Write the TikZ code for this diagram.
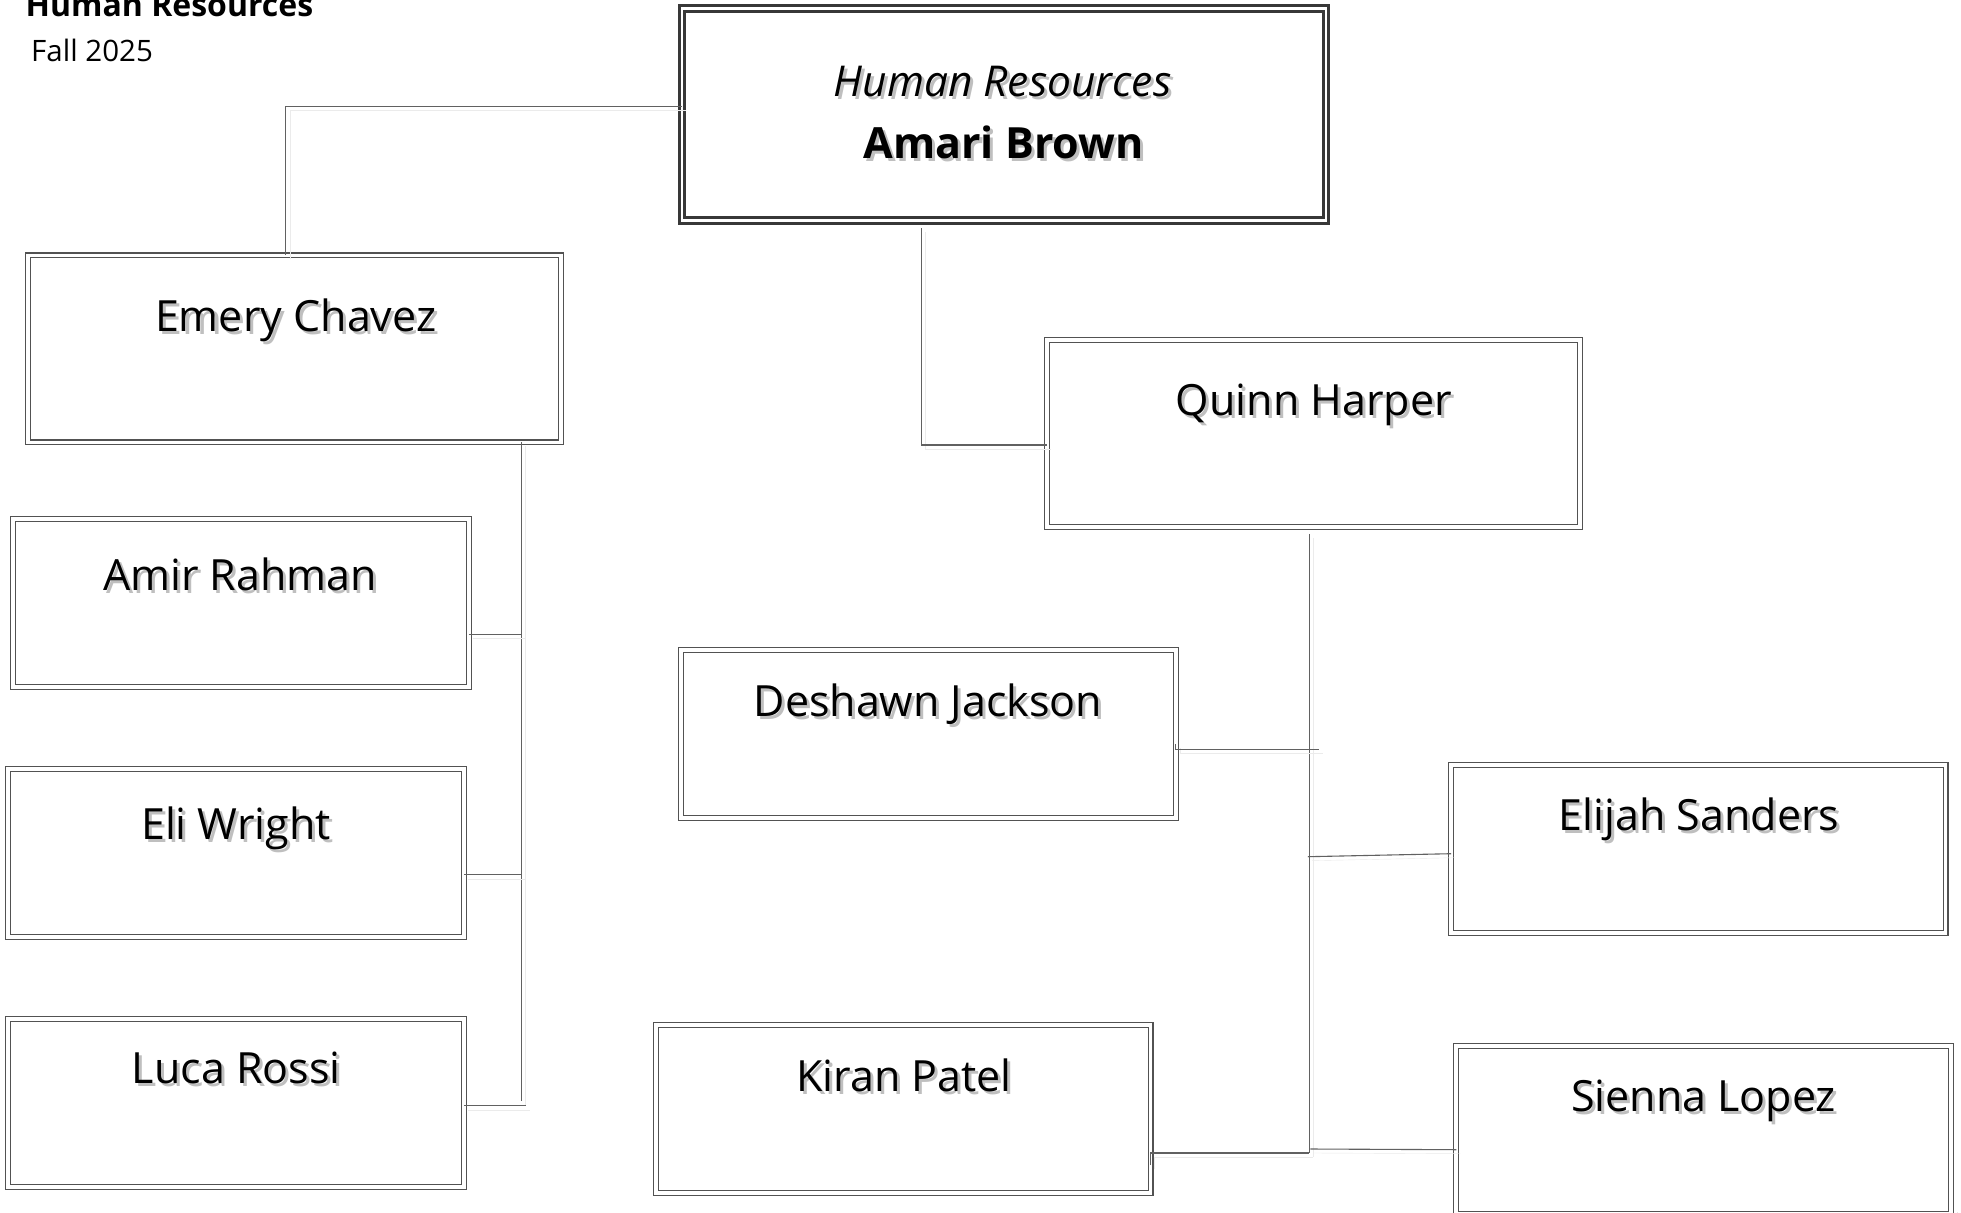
\documentclass[tikz,border=0pt]{standalone}
\usepackage{fontspec}
\setmainfont{Open Sans}
\usetikzlibrary{calc}
\pgfdeclarelayer{bg}
\pgfsetlayers{bg,main}
\newcommand\shd[1]{\makebox[0pt][l]{\raisebox{-3pt}{\hspace{3pt}\textcolor{black!25}{#1}}}#1}
\begin{document}
\begin{tikzpicture}[x=1pt,y=-1pt,
  boxbase/.style={rectangle, draw=black!68, line width=1.2pt, double=white, double distance=3.6pt, inner sep=0pt, outer sep=0pt},
  boxS/.style={boxbase, minimum width=456pt, minimum height=168pt},
  boxM/.style={boxbase, minimum width=494.5pt, minimum height=168pt},
  boxL/.style={boxbase, minimum width=533pt, minimum height=187pt},
  topbox/.style={rectangle, draw=black!78, line width=3pt, double=white, double distance=2.2pt, inner sep=0pt, outer sep=0pt, minimum width=644.6pt, minimum height=212pt},
  nm/.style={anchor=base, inner sep=0pt, font=\fontsize{43}{50}\selectfont},
  conn/.style={draw=black!62, line width=1.1pt, preaction={draw=black!8, transform canvas={xshift=4pt,yshift=-4pt}}},
  shad/.style={draw=black!9, line width=1.2pt, double=white, double distance=3.6pt}
]
\useasboundingbox[fill=white] (0,0) rectangle (1961,1212);

% titles
\node[anchor=base west, inner sep=0pt, font=\bfseries\fontsize{32}{38}\selectfont] (title) at (25.5,16.7) {Human Resources};
\node[anchor=base west, inner sep=0pt, font=\fontsize{29.5}{34}\selectfont] (sub) at (31,61.7) {Fall 2025};

% boxes
\node[topbox] (hr) at (1004,114.5) {};
\node[boxL] (emery) at (294.6,348.8) {};
\node[boxL] (quinn) at (1313.5,433.4) {};
\node[boxS] (amir) at (240.8,602.7) {};
\node[boxS] (eli) at (236,852.8) {};
\node[boxS] (luca) at (236,1102.75) {};
\node[boxM] (deshawn) at (928.5,733.9) {};
\node[boxM] (kiran) at (903.35,1109.25) {};
\node[boxM] (elijah) at (1698.35,849.1) {};
\node[boxM] (sienna) at (1703.5,1129.8) {};

% box shadows
\begin{pgfonlayer}{bg}
\foreach \n in {emery,quinn,amir,eli,luca,deshawn,kiran,elijah,sienna}
  \draw[shad] ([shift={(4,4)}]\n.north west) rectangle ([shift={(4,4)}]\n.south east);
\draw[shad, draw=black!13, line width=3pt, double distance=2.2pt] ([shift={(4,4)}]hr.north west) rectangle ([shift={(4,4)}]hr.south east);
\end{pgfonlayer}

% texts
\node[nm, font=\itshape\fontsize{42.5}{48}\selectfont] (hrT) at (1002.6,96.7) {\shd{Human Resources}};
\node[nm, font=\bfseries\fontsize{43}{50}\selectfont] (hrN) at (1003.5,158.3) {\shd{Amari Brown}};
\node[nm] (emeryT) at (295.7,331) {\shd{Emery Chavez}};
\node[nm] (quinnT) at (1313.9,415) {\shd{Quinn Harper}};
\node[nm] (amirT) at (240,590) {\shd{Amir Rahman}};
\node[nm] (eliT) at (236,839.3) {\shd{Eli Wright}};
\node[nm] (lucaT) at (236.3,1083.3) {\shd{Luca Rossi}};
\node[nm] (deshawnT) at (928,716) {\shd{Deshawn Jackson}};
\node[nm] (kiranT) at (904,1091.7) {\shd{Kiran Patel}};
\node[nm] (elijahT) at (1699,830.7) {\shd{Elijah Sanders}};
\node[nm] (siennaT) at (1703.5,1111.7) {\shd{Sienna Lopez}};

% connectors
\coordinate (c1) at (285.7,106.7);
\draw[conn] (hr.west |- c1) -- (c1) -- (c1 |- emery.north);
\coordinate (c2) at (921.3,445);
\draw[conn] ($(hr.south -| c2)+(0,7.5)$) -- (c2) -- (c2 -| quinn.west);

\coordinate (eb) at (521.6,1101);
\draw[conn] (emery.south -| eb) -- (eb);
\coordinate (ja) at (521.6,634.3);
\draw[conn] (amir.east |- ja) -- (ja);
\coordinate (je) at (521.6,874.7);
\draw[conn] (eli.east |- je) -- (je);
\coordinate (jl) at (525.5,1105.7);
\draw[conn] (luca.east |- jl) -- (jl);

\coordinate (qb) at (1309.3,1153);
\draw[conn] ($(quinn.south -| qb)+(0,7)$) -- (qb);
\coordinate (jd) at (1318.6,749.4);
\draw[conn] ($(deshawn.east |- jd)+(0,-5)$) -- (deshawn.east |- jd) -- (jd);
\coordinate (jy) at (1307.8,856.7);
\draw[conn] (jy) -- ($(elijah.west)+(0,4.6)$);
\draw[conn] ($(kiran.east |- qb)+(0,12)$) -- (kiran.east |- qb) -- (qb);
\coordinate (js) at (1310.4,1149);
\draw[conn] (js) -- ($(sienna.west)+(0,19.9)$);
\end{tikzpicture}
\end{document}
